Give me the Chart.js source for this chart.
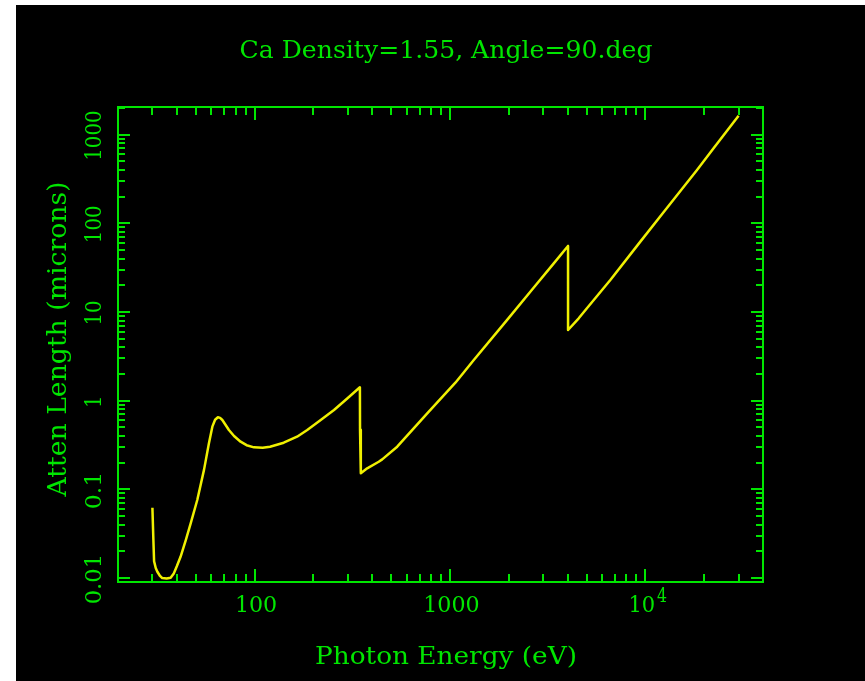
<!DOCTYPE html>
<html>
<head>
<meta charset="utf-8">
<script src="https://cdn.jsdelivr.net/npm/chart.js@4.4.0/dist/chart.umd.min.js"></script>
<style>
  html, body { margin: 0; padding: 0; background: #fff; }
  canvas { display: block; }
</style>
</head>
<body>
<canvas id="atten" width="865" height="681"></canvas>
<script>
// ----- data -----
const energyEv = [30, 30.3, 30.6, 31.2, 31.8, 32.7, 33.7, 35.5, 37.2, 38.6, 40, 41.8, 44.5, 47.1,
  50.9, 55.1, 58.4, 60.8, 62.8, 64.9, 66.6, 68.4, 73.9, 78.5, 84.8, 91, 99.3, 110, 120, 141, 165,
  186, 218, 255, 298, 346, 346.5, 349.5, 350, 377, 432, 450, 537, 765, 1066, 1324, 1962, 2686,
  3398, 4020, 4021, 4560, 5023, 6618, 9426, 12650, 18380, 22340, 30000];
const attenMicrons = [0.062, 0.030, 0.0155, 0.0130, 0.0118, 0.0107, 0.0100, 0.0099, 0.0101,
  0.0113, 0.0136, 0.0174, 0.027, 0.0415, 0.076, 0.166, 0.331, 0.51, 0.61, 0.650, 0.640, 0.606,
  0.468, 0.400, 0.345, 0.315, 0.298, 0.295, 0.303, 0.336, 0.393, 0.468, 0.606, 0.786, 1.06,
  1.416, 0.47, 0.40, 0.152, 0.173, 0.205, 0.218, 0.303, 0.721, 1.596, 2.88, 8.14, 18.9, 35.3,
  55.5, 6.27, 8.49, 11.0, 22.96, 62.1, 141, 399, 701, 1633];

const xTickValues = [100, 1000, 10000];
const xTickLabels = ["100", "1000", "10"];
const yTickValues = [0.01, 0.1, 1, 10, 100, 1000];
const yTickLabels = ["0.01", "0.1", "1", "10", "100", "1000"];

const TITLE = "Ca Density=1.55, Angle=90.deg";
const X_TITLE = "Photon Energy (eV)";
const Y_TITLE = "Atten Length (microns)";

const GREEN = "#00e600";
const YELLOW = "#f0f000";
const FONT = '"DejaVu Serif"';
const CAP = 0.729; // cap height ratio of the font

// draw text centred on (cx, cy) of its cap height, stretched to a given width
function fitText(ctx, text, cx, cy, width, capPx, rot) {
  const size = capPx / CAP;
  ctx.save();
  ctx.translate(cx, cy);
  if (rot) ctx.rotate(rot);
  ctx.font = `${size}px ${FONT}`;
  const w = ctx.measureText(text).width;
  ctx.scale(width / w, 1);
  ctx.textAlign = "center";
  ctx.textBaseline = "alphabetic";
  ctx.fillText(text, 0, capPx / 2);
  ctx.restore();
}

function logTicks(min, max) {
  const out = [];
  for (let d = Math.floor(Math.log10(min)); d <= Math.ceil(Math.log10(max)); d++) {
    for (let m = 1; m <= 9; m++) {
      const v = m * Math.pow(10, d);
      if (v >= min * 1.001 && v <= max * 0.999) out.push({ v, major: m === 1 });
    }
  }
  return out;
}

const framePlugin = {
  id: "frame",
  beforeDraw(chart) {
    const ctx = chart.ctx;
    ctx.save();
    ctx.fillStyle = "#fff";
    ctx.fillRect(0, 0, chart.width, chart.height);
    ctx.fillStyle = "#000";
    ctx.fillRect(16, 5, chart.width - 16, chart.height - 5);
    ctx.restore();
  },
  afterDraw(chart) {
    const ctx = chart.ctx;
    const a = chart.chartArea;
    const xs = chart.scales.x, ys = chart.scales.y;
    ctx.save();
    ctx.strokeStyle = GREEN;
    ctx.fillStyle = GREEN;
    ctx.lineWidth = 2;
    ctx.strokeRect(a.left, a.top, a.right - a.left, a.bottom - a.top);

    // inward ticks, all four sides
    ctx.beginPath();
    logTicks(xs.min, xs.max).forEach((t) => {
      const px = Math.round(xs.getPixelForValue(t.v));
      const len = t.major ? 13 : 8;
      ctx.moveTo(px, a.bottom); ctx.lineTo(px, a.bottom - len);
      ctx.moveTo(px, a.top); ctx.lineTo(px, a.top + len);
    });
    logTicks(ys.min, ys.max).forEach((t) => {
      const py = Math.round(ys.getPixelForValue(t.v));
      const len = t.major ? 12 : 7;
      ctx.moveTo(a.left, py); ctx.lineTo(a.left + len, py);
      ctx.moveTo(a.right, py); ctx.lineTo(a.right - len, py);
    });
    ctx.stroke();

    // x tick labels
    xTickValues.forEach((v, i) => {
      const px = xs.getPixelForValue(v);
      const lab = xTickLabels[i];
      if (v === 10000) {
        fitText(ctx, lab, px - 3.5, 603.3, 26.7, 16.7);
        fitText(ctx, "4", px + 16.7, 594.2, 10, 15);
      } else {
        fitText(ctx, lab, px + 1.5, 603.3, lab.length * 14.1, 16.7);
      }
    });

    // y tick labels, rotated
    yTickValues.forEach((v, i) => {
      const py = ys.getPixelForValue(v);
      const lab = yTickLabels[i];
      fitText(ctx, lab, 92.4, py + 1, lab.length * 12.6, 16.7, -Math.PI / 2);
    });

    // titles
    fitText(ctx, TITLE, 446, 49, 413, 18);
    fitText(ctx, X_TITLE, 446, 655, 262, 18);
    fitText(ctx, Y_TITLE, 56.5, 339, 315, 18.3, -Math.PI / 2);
    ctx.restore();
  },
};

new Chart(document.getElementById("atten").getContext("2d"), {
  type: "line",
  data: {
    datasets: [{
      data: energyEv.map((e, i) => ({ x: e, y: attenMicrons[i] })),
      borderColor: YELLOW,
      borderWidth: 2.5,
      borderJoinStyle: "round",
      pointRadius: 0,
      tension: 0,
      fill: false,
    }],
  },
  options: {
    responsive: false,
    animation: false,
    events: [],
    layout: { padding: { left: 118, top: 107, right: 102, bottom: 99 } },
    plugins: { legend: { display: false }, tooltip: { enabled: false }, title: { display: false } },
    scales: {
      x: { type: "logarithmic", min: 20, max: 40000, display: false },
      y: { type: "logarithmic", min: 0.00904, max: 2046, display: false },
    },
  },
  plugins: [framePlugin],
});
</script>
</body>
</html>
